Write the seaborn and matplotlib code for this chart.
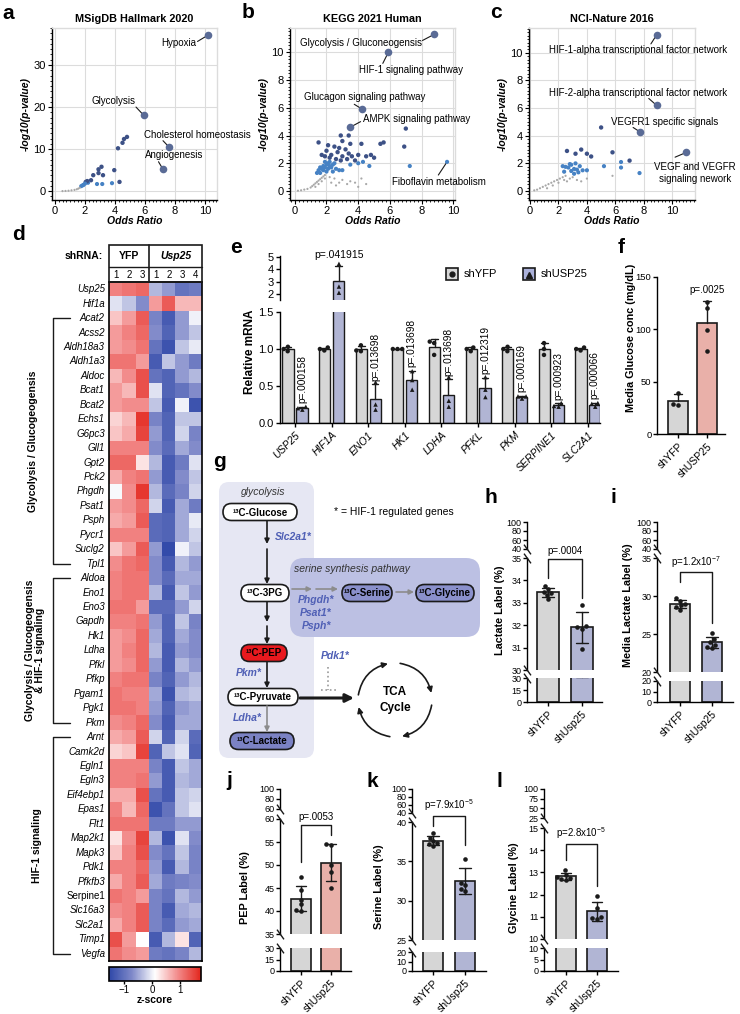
import numpy as np
import pandas as pd
import matplotlib
matplotlib.use("Agg")
import matplotlib.pyplot as plt
import seaborn as sns
from matplotlib.patches import FancyBboxPatch, Rectangle, FancyArrowPatch
from matplotlib.colors import LinearSegmentedColormap
from matplotlib.ticker import MultipleLocator
from matplotlib.transforms import ScaledTranslation

# ======================= DATA =======================
# (a) MSigDB Hallmark 2020
a_terms = ["Hypoxia", "Glycolysis", "Cholesterol homeostasis", "Angiogenesis"]
a_term_or = [10.2, 5.9, 7.6, 7.2]
a_term_lp = [37.1, 18.1, 10.5, 5.2]
a_or = [4.8, 4.6, 4.5, 4.2, 3.95, 4.3, 3.8, 3.15, 2.8, 3.1, 2.9, 3.2, 2.9, 2.55, 2.4,
        2.2, 2.15, 2.05, 2.0, 1.9, 1.75, 1.85, 0.5, 0.7, 0.9, 1.1, 1.3, 1.45, 1.55, 1.65]
a_lp = [12.9, 12.4, 11.5, 10.2, 5.0, 2.2, 1.9, 1.7, 1.7, 5.8, 5.2, 3.8, 4.3, 3.8, 2.6,
        2.0, 2.4, 2.2, 1.8, 1.5, 1.2, 1.4, 0.02, 0.05, 0.1, 0.2, 0.3, 0.45, 0.6, 0.8]

# (b) KEGG 2021 Human
b_terms = ["Glycolysis / Gluconeogensis", "HIF-1 signaling pathway",
           "Glucagon signaling pathway", "AMPK signaling pathway"]
b_term_or = [8.8, 5.9, 4.25, 3.5]
b_term_lp = [11.3, 10.0, 5.9, 4.6]
b_or = [9.6, 7.0, 6.9, 5.6, 5.4, 2.9, 3.4, 1.5, 2.1, 2.5, 2.8, 3.2, 3.5, 4.2, 3.0, 2.0, 2.7,
        3.4, 4.0, 4.8, 3.0, 3.6, 4.5, 5.0, 1.9, 2.3, 1.7, 2.2, 2.6, 3.3, 2.9, 3.8,
        7.25, 4.3, 4.0, 3.5, 4.7, 1.5, 1.6, 1.7, 1.8, 1.9, 2.0, 2.1, 2.2, 2.3, 2.4, 1.9, 2.2,
        2.6, 2.8, 1.6, 2.0, 2.4, 3.0, 2.5, 1.8, 1.4, 2.1,
        0.2, 0.4, 0.6, 0.8, 1.0, 1.1, 1.2, 1.3, 1.4, 1.5, 1.6, 1.7, 1.8, 1.9, 1.5, 1.7, 1.9,
        2.2, 2.5, 2.8, 3.0, 3.3, 3.5, 3.8, 4.2, 4.5, 1.3, 2.3, 2.6, 4.0]
b_lp = [2.1, 4.5, 3.2, 3.5, 3.4, 4.0, 4.0, 3.5, 3.3, 3.2, 3.1, 3.0, 3.4, 3.4, 3.6, 2.9, 2.8,
        2.7, 2.6, 2.6, 2.5, 2.5, 2.5, 2.4, 2.5, 2.6, 2.6, 2.4, 2.3, 2.3, 2.2, 2.2,
        1.8, 2.1, 2.0, 1.9, 1.8, 1.5, 1.7, 1.6, 1.8, 1.7, 1.9, 2.0, 1.8, 1.7, 1.9, 2.1, 2.1,
        1.6, 1.5, 1.3, 1.4, 1.4, 1.5, 2.0, 1.5, 1.3, 1.6,
        0.02, 0.05, 0.1, 0.15, 0.25, 0.35, 0.45, 0.55, 0.65, 0.75, 0.85, 0.95, 1.05, 1.15, 0.5,
        0.7, 0.9, 1.0, 0.9, 0.6, 0.8, 0.5, 0.7, 0.6, 0.9, 0.5, 0.3, 0.6, 0.4, 0.3]

# (c) NCI-Nature 2016
c_terms = ["HIF-1-alpha transcriptional factor network",
           "HIF-2-alpha transcriptional factor network",
           "VEGFR1 specific signals", "VEGF and VEGFR signaling nework"]
c_term_or = [8.9, 8.9, 7.7, 11.0]
c_term_lp = [11.3, 6.2, 4.3, 2.8]
c_or = [5.0, 5.8, 7.0, 6.4, 5.2, 6.4, 7.7, 2.6, 3.2, 3.6, 4.0, 4.3, 3.2, 2.8, 2.3, 2.5, 2.7,
        2.9, 3.1, 3.3, 3.5, 3.7, 4.0, 2.4, 2.9, 3.4, 3.1,
        0.3, 0.5, 0.7, 0.9, 1.1, 1.3, 1.5, 1.7, 1.9, 2.1, 2.3, 2.5, 2.0, 2.4, 2.8, 3.0, 3.3,
        3.6, 4.0, 5.8, 2.6, 1.6, 1.2]
c_lp = [4.6, 2.8, 2.2, 2.1, 1.8, 1.7, 1.3, 2.9, 2.7, 3.0, 2.7, 2.5, 2.0, 1.95, 1.8, 1.75, 1.7,
        1.9, 1.6, 1.55, 1.8, 1.5, 1.5, 1.4, 1.45, 1.35, 1.25,
        0.05, 0.1, 0.2, 0.3, 0.4, 0.5, 0.6, 0.7, 0.8, 0.9, 1.0, 1.1, 0.6, 0.8, 0.9, 1.0, 0.8,
        0.7, 0.9, 1.1, 0.7, 0.4, 0.2]

# (d) heatmap z-scores: columns YFP 1-3, Usp25 1-4
hm_genes = ["Usp25", "Hif1a", "Acat2", "Acss2", "Aldh18a3", "Aldh1a3", "Aldoc", "Bcat1",
            "Bcat2", "Echs1", "G6pc3", "Gll1", "Gpt2", "Pck2", "Phgdh", "Psat1", "Psph",
            "Pycr1", "Suclg2", "Tpl1", "Aldoa", "Eno1", "Eno3", "Gapdh", "Hk1", "Ldha",
            "Pfkl", "Pfkp", "Pgam1", "Pgk1", "Pkm", "Arnt", "Camk2d", "Egln1", "Egln3",
            "Eif4ebp1", "Epas1", "Flt1", "Map2k1", "Mapk3", "Pdk1", "Pfkfb3", "Serpine1",
            "Slc16a3", "Slc2a1", "Timp1", "Vegfa"]
hm_cols = ["YFP 1", "YFP 2", "YFP 3", "Usp25 1", "Usp25 2", "Usp25 3", "Usp25 4"]
hm_z = [
    [1.0, 1.1, 1.2, -0.4, -0.6, -1.0, -0.9],
    [-0.1, -0.3, -0.7, 0.8, 1.3, 0.6, 0.6],
    [0.5, 0.8, 1.3, -0.8, -1.3, -0.6, 0.0],
    [0.8, 1.0, 1.2, -0.7, -1.2, -0.6, -0.3],
    [0.8, 0.9, 1.1, -1.0, -1.4, -0.3, -0.05],
    [1.1, 1.1, 0.8, -1.3, -0.3, -0.6, -0.9],
    [0.6, 0.9, 1.4, -1.0, -1.2, -0.6, -0.4],
    [0.8, 0.6, 1.4, -0.1, -1.2, -1.0, -0.7],
    [0.8, 0.9, 0.9, -0.3, -1.3, 0.0, -1.4],
    [0.4, 0.6, 1.6, -0.8, -1.2, -0.3, -0.3],
    [0.5, 0.7, 1.5, -0.6, -1.2, -0.2, -0.8],
    [1.0, 1.0, 1.0, -0.7, -1.1, -0.5, -0.7],
    [1.2, 1.2, 0.3, -0.4, -1.3, -0.9, -0.1],
    [0.7, 1.0, 1.1, -0.6, -1.3, -0.7, -0.3],
    [0.05, 0.9, 1.6, -0.4, -1.1, -0.8, -0.2],
    [0.8, 0.9, 1.2, -0.2, -1.3, -0.5, -0.9],
    [0.7, 0.8, 1.3, -1.1, -1.2, -0.5, -0.05],
    [1.0, 1.0, 1.0, -1.1, -1.2, -0.5, -0.2],
    [0.5, 0.8, 1.3, -0.6, -1.5, 0.0, -0.3],
    [0.9, 1.1, 1.2, -0.7, -1.3, -0.4, -0.6],
    [1.0, 1.1, 1.1, -0.7, -1.1, -0.5, -0.5],
    [1.0, 1.1, 1.1, -0.4, -1.3, -0.3, -0.6],
    [1.1, 1.1, 0.8, -1.1, -1.1, -0.6, -0.2],
    [1.0, 1.0, 1.1, -0.6, -1.2, -0.3, -0.8],
    [0.8, 0.9, 1.2, -0.5, -1.2, -0.5, -0.7],
    [0.8, 1.0, 1.2, -0.4, -1.3, -0.6, -0.7],
    [0.8, 0.9, 1.2, -0.6, -1.3, -0.4, -0.6],
    [1.0, 1.1, 1.1, -0.8, -1.2, -0.6, -0.4],
    [1.1, 1.0, 1.0, -0.5, -1.4, -0.4, -0.3],
    [1.1, 1.1, 1.0, -0.6, -1.2, -0.6, -0.5],
    [0.9, 1.0, 1.2, -0.7, -1.3, -0.5, -0.5],
    [0.7, 0.8, 1.3, -0.2, -1.2, -0.2, -1.1],
    [0.4, 0.5, 1.5, -1.2, -0.3, -0.1, -1.2],
    [1.0, 1.0, 1.0, -0.8, -1.3, -0.3, -0.5],
    [1.0, 1.0, 1.1, -0.6, -1.3, -0.4, -0.5],
    [0.7, 0.7, 1.4, -1.0, -1.3, -0.3, -0.2],
    [1.0, 0.6, 1.2, -1.4, -1.0, -0.3, -0.1],
    [1.1, 1.1, 1.1, -0.9, -0.9, -0.6, -0.6],
    [0.3, 0.9, 1.5, -0.4, -1.4, -0.1, -0.7],
    [0.5, 1.0, 1.4, -0.7, -1.0, -0.3, -0.8],
    [1.0, 1.0, 1.2, -0.6, -1.3, -0.4, -0.8],
    [0.7, 1.0, 1.3, -0.5, -0.9, -0.8, -0.7],
    [1.1, 1.0, 0.8, -0.8, -1.0, -0.4, -0.6],
    [0.9, 1.0, 1.3, -0.8, -1.3, -0.5, -0.4],
    [0.7, 1.0, 1.3, -0.8, -1.1, -0.6, -0.5],
    [1.4, 0.8, 0.1, -1.3, -0.4, 0.3, -1.2],
    [1.1, 0.9, 0.8, -0.9, -1.0, -0.8, -0.4],
]

# (e) relative mRNA
e_genes = ["USP25", "HIF1A", "ENO1", "HK1", "LDHA", "PFKL", "PKM", "SERPINE1", "SLC2A1"]
e_shYFP = [[1.03, 0.97, 1.00], [0.98, 1.02, 1.00], [1.05, 0.97, 0.98], [1.00, 1.00, 1.00],
           [1.10, 1.08, 0.92], [1.02, 0.97, 1.00], [1.03, 0.97, 1.00], [1.08, 0.92, 1.00],
           [1.02, 0.98, 1.00]]
e_shUSP25 = [[0.18, 0.22, 0.20], [2.10, 2.60, 4.45], [0.18, 0.25, 0.55], [0.45, 0.58, 0.70],
             [0.22, 0.30, 0.62], [0.35, 0.45, 0.62], [0.33, 0.36, 0.36], [0.22, 0.27, 0.23],
             [0.22, 0.26, 0.27]]
e_pvals = ["p=.000158", "p=.041915", "p=.013698", "p=.013698", "p=.013698", "p=.012319",
           "p=.000169", "p=.000923", "p=.000066"]

# (f) media glucose
f_groups = ["shYFP", "shUSP25"]
f_shYFP = [28, 29, 39]
f_shUSP25 = [79, 99, 120, 126]
f_p = "p=.0025"

# (h-l) 13C label (%)
hl_groups = ["shYFP", "shUsp25"]
h_shYFP = [33.75, 33.6, 33.5, 33.45, 33.35, 33.15]
h_shUsp25 = [32.9, 31.95, 31.9, 31.85, 30.95]
i_shYFP = [29.8, 29.4, 29.0, 28.8, 28.6, 28.2]
i_shUsp25 = [25.1, 24.3, 23.9, 23.6, 23.3, 23.1]
j_shYFP = [47.3, 44.5, 42.5, 41.5, 40.3, 40.1]
j_shUsp25 = [54.6, 54.3, 50.0, 48.5, 45.0]
k_shYFP = [38.6, 38.0, 37.6, 37.3, 37.2, 37.0]
k_shUsp25 = [35.3, 32.3, 32.0, 31.5, 31.2]
l_shYFP = [13.1, 12.9, 12.8, 12.75, 12.7, 12.65]
l_shUsp25 = [11.95, 11.4, 11.0, 10.95, 10.9]
hl_p = {"h": "p=.0004", "i": "p=1.2x10$^{-7}$", "j": "p=.0053",
        "k": "p=7.9x10$^{-5}$", "l": "p=2.8x10$^{-5}$"}

# ======================= STYLE =======================
sns.set_theme(context="paper", style="ticks")
plt.rcParams["font.family"] = ["Liberation Sans", "DejaVu Sans"]
plt.rcParams.update({
    "font.size": 7, "axes.linewidth": 1.0, "axes.edgecolor": "black",
    "xtick.color": "black", "ytick.color": "black", "text.color": "black",
    "axes.labelcolor": "black", "xtick.major.width": 1.0, "ytick.major.width": 1.0,
    "xtick.major.size": 3, "ytick.major.size": 3,
    "mathtext.fontset": "custom", "mathtext.rm": "Liberation Sans",
    "mathtext.it": "Liberation Sans:italic", "mathtext.bf": "Liberation Sans:bold",
    "mathtext.default": "regular"})

GRAY = "#d6d6d6"
BLUE = "#abb1da"
SALMON = "#f4a79e"
NAVY = "#3d5186"
MID = "#4682c4"
LG = "#a8a8a8"
BIG = "#5a6b96"
ENZ = "#4f5fb5"

W, H = 740, 1014
fig = plt.figure(figsize=(W / 100, H / 100), dpi=100)
fig.patch.set_facecolor("white")


def axpx(x0, y0, x1, y1, **kw):
    return fig.add_axes([x0 / W, 1 - y1 / H, (x1 - x0) / W, (y1 - y0) / H], **kw)


ov = fig.add_axes([0, 0, 1, 1], zorder=20)
ov.set_xlim(0, W)
ov.set_ylim(H, 0)
ov.axis("off")
ov.patch.set_alpha(0)


def T(x, y, s, **kw):
    kw.setdefault("ha", "center")
    kw.setdefault("va", "center")
    kw.setdefault("fontsize", 7)
    return ov.text(x, y, s, **kw)


# panel letters
for lt, (x, y) in {"a": (2, 19), "b": (242, 18), "c": (490, 18), "d": (12, 240),
                   "e": (230, 253), "f": (618, 253), "g": (213, 467), "h": (485, 503),
                   "i": (610, 503), "j": (226, 786), "k": (366, 787), "l": (497, 787)}.items():
    T(x, y, lt, ha="left", va="baseline", fontsize=15, fontweight="bold")


# ======================= a / b / c =======================
def enrich(box, xlim, ylim, yticks, title, ors, lps, t_or, t_lp, ann):
    ax = axpx(*box)
    cat = ["ns" if v < 1.2 else ("mid" if v < 2.15 else "hi") for v in lps]
    df = pd.DataFrame({"OR": ors, "LP": lps, "cat": cat})
    sns.scatterplot(data=df, x="OR", y="LP", hue="cat", size="cat",
                    palette={"ns": LG, "mid": MID, "hi": NAVY},
                    sizes={"ns": 2.5, "mid": 9, "hi": 10}, linewidth=0, legend=False,
                    ax=ax, zorder=3)
    sns.scatterplot(x=t_or, y=t_lp, s=30, color=BIG, linewidth=0, ax=ax, zorder=4)
    for text, tx, ty, ha, lx, ly, px, py in ann:
        ax.text(tx, ty, text, ha=ha, va="center", fontsize=7, clip_on=False, zorder=6)
        ax.plot([lx, px], [ly, py], color="k", lw=0.8, clip_on=False, zorder=2)
    ax.set_xlim(xlim)
    ax.set_ylim(ylim)
    ax.set_xticks([0, 2, 4, 6, 8, 10])
    ax.set_yticks(yticks)
    ax.grid(True, color="#dcdcdc", lw=0.8)
    ax.set_axisbelow(True)
    for s in ["top", "right"]:
        ax.spines[s].set_color("#dcdcdc")
    ax.xaxis.set_minor_locator(MultipleLocator(0.25))
    ax.yaxis.set_minor_locator(MultipleLocator((yticks[1] - yticks[0]) / 8))
    ax.tick_params(which="major", length=3, width=0.8, labelsize=8, pad=1.5)
    ax.tick_params(which="minor", length=1.5, width=0.6)
    ax.tick_params(which="both", top=False, right=False)
    ax.set_xlabel("Odds Ratio", fontweight="bold", style="italic", fontsize=7.5, labelpad=0)
    ax.set_ylabel("-log10(p-value)", fontweight="bold", style="italic", fontsize=7.5,
                  labelpad=2)
    ax.set_title(title, fontweight="bold", fontsize=7.8, pad=4)
    return ax


enrich((52, 28, 217, 200), (-0.2, 10.8), (-2.1, 38.8), [0, 10, 20, 30],
       "MSigDB Hallmark 2020", a_or, a_lp, a_term_or, a_term_lp,
       [(a_terms[0], 9.45, 35.2, "right", 9.5, 35.6, a_term_or[0], a_term_lp[0]),
        (a_terms[1], 3.9, 21.4, "center", 5.4, 20.0, a_term_or[1], a_term_lp[1]),
        (a_terms[2], 5.9, 13.3, "left", 7.2, 12.0, a_term_or[2], a_term_lp[2]),
        (a_terms[3], 6.0, 8.6, "left", 6.9, 7.0, a_term_or[3], a_term_lp[3])])

enrich((290, 28, 455, 200), (-0.3, 10.1), (-0.65, 11.75), [0, 2, 4, 6, 8, 10],
       "KEGG 2021 Human", b_or, b_lp, b_term_or, b_term_lp,
       [(b_terms[0], 8.0, 10.7, "right", 8.05, 10.85, b_term_or[0], b_term_lp[0]),
        (b_terms[1], 4.05, 8.7, "left", 5.55, 9.2, b_term_or[1], b_term_lp[1]),
        (b_terms[2], 4.4, 6.8, "center", 3.75, 6.25, b_term_or[2], b_term_lp[2]),
        (b_terms[3], 4.3, 5.2, "left", 4.15, 5.0, b_term_or[3], b_term_lp[3]),
        ("Fiboflavin metabolism", 6.1, 0.65, "left", 9.05, 1.15, b_or[0], b_lp[0])])

enrich((529, 28, 695, 200), (-0.07, 11.6), (-0.65, 11.8), [0, 2, 4, 6, 8, 10],
       "NCI-Nature 2016", c_or, c_lp, c_term_or, c_term_lp,
       [(c_terms[0], 7.6, 10.2, "center", 8.5, 10.65, c_term_or[0], c_term_lp[0]),
        (c_terms[1], 7.6, 7.1, "center", 8.35, 6.7, c_term_or[1], c_term_lp[1]),
        (c_terms[2], 9.47, 5.0, "center", 7.25, 4.6, c_term_or[2], c_term_lp[2]),
        ("VEGF and VEGFR\nsignaling nework", 11.6, 1.3, "center", 10.2, 2.45,
         c_term_or[3], c_term_lp[3])])

# ======================= d heatmap =======================
cmap = LinearSegmentedColormap.from_list(
    "bwr_z", ["#2f48a8", "#7f89c9", "#ffffff", "#f28a8a", "#e3261c"])
axd = axpx(109, 282, 202, 961)
cax = axpx(109, 967, 201, 981)
hm = pd.DataFrame(np.array(hm_z), index=hm_genes, columns=hm_cols)
sns.heatmap(hm, ax=axd, cmap=cmap, vmin=-1.55, vmax=1.75, cbar_ax=cax,
            cbar_kws={"orientation": "horizontal", "ticks": [-1, 0, 1]},
            xticklabels=False, yticklabels=True)
axd.set_yticklabels(hm_genes, rotation=0, fontsize=7)
for lb in axd.get_yticklabels():
    lb.set_style("normal" if lb.get_text() == "Serpine1" else "italic")
axd.tick_params(axis="y", length=0, pad=3)
axd.set_ylabel("")
for s in axd.spines.values():
    s.set_visible(True)
    s.set_linewidth(1.2)
cax.tick_params(labelsize=7, length=2, pad=1)
cax.outline.set_linewidth(1.2) if hasattr(cax, "outline") else None
for s in cax.spines.values():
    s.set_linewidth(1.2)
T(155, 1000, "z-score", fontweight="bold", fontsize=7.5)

# heatmap header
ov.add_patch(Rectangle((109, 245), 93, 37, fill=False, ec="k", lw=1.2))
ov.plot([149, 149], [245, 282], color="k", lw=1.2)
ov.plot([109, 202], [267, 267], color="k", lw=1.0)
T(103, 256, "shRNA:", ha="right", fontweight="bold", fontsize=7.5)
T(129, 256, "YFP", fontweight="bold", fontsize=7.5)
T(175.5, 256, "Usp25", fontweight="bold", style="italic", fontsize=7.5)
cw = 93 / 7
for ci, num in enumerate(["1", "2", "3", "1", "2", "3", "4"]):
    T(109 + (ci + 0.5) * cw, 275, num, fontsize=7)

# brackets
rowh = (961 - 282) / len(hm_genes)


def rc(i):
    return 282 + (i + 0.5) * rowh


for (i0, i1), lab, lx in [((2, 19), "Glycolysis / Glucogeogensis", 33),
                          ((20, 30), "Glycolysis / Glucogeogensis\n& HIF-1 signaling", 35),
                          ((31, 46), "HIF-1 signaling", 37)]:
    y0, y1 = rc(i0), rc(i1)
    ov.plot([70, 53, 53, 70], [y0, y0, y1, y1], color="k", lw=1.0)
    T(lx, (y0 + y1) / 2, lab, rotation=90, fontweight="bold", fontsize=7.5,
      linespacing=1.1)

# ======================= e =======================
e_rows = []
for g, a_, b_ in zip(e_genes, e_shYFP, e_shUSP25):
    e_rows += [(g, "shYFP", v) for v in a_] + [(g, "shUSP25", v) for v in b_]
e_df = pd.DataFrame(e_rows, columns=["gene", "grp", "val"])
E_HUE = ["shYFP", "shUSP25"]


def up_err(ax, df, xcol, order, hue_order, cap):
    tops = {}
    for ci, cont in enumerate(ax.containers):
        for bar in cont:
            xc = bar.get_x() + bar.get_width() / 2
            gi = int(round(xc))
            lvl = hue_order[ci]
            vals = df[(df[xcol] == order[gi]) & (df["grp"] == lvl)]["val"]
            m, s = vals.mean(), vals.std()
            ax.plot([xc, xc], [m, m + s], color="k", lw=1.0, zorder=4)
            ax.plot([xc - cap, xc + cap], [m + s, m + s], color="k", lw=1.0, zorder=4)
            tops[(order[gi], lvl)] = (xc, m + s)
    return tops


e_lo = axpx(280, 312, 600, 423)
e_hi = axpx(280, 256, 600, 300)
for ax, (lo, hi) in [(e_lo, (0, 1.5)), (e_hi, (1.51, 5.08))]:
    sns.barplot(data=e_df, x="gene", y="val", hue="grp", order=e_genes, hue_order=E_HUE,
                palette={"shYFP": GRAY, "shUSP25": BLUE}, errorbar=None, width=0.76,
                gap=0.2, edgecolor="k", linewidth=1.0, legend=False, ax=ax)
    tops = up_err(ax, e_df, "gene", e_genes, E_HUE, cap=0.09)
    sub = e_df[(e_df["val"] >= lo) & (e_df["val"] <= hi)]
    for lvl, mk in zip(E_HUE, ["o", "^"]):
        sns.swarmplot(data=sub[sub["grp"] == lvl], x="gene", y="val", hue="grp",
                      order=e_genes, hue_order=E_HUE, dodge=True,
                      palette={"shYFP": "k", "shUSP25": "k"}, marker=mk, size=3.2,
                      legend=False, ax=ax, zorder=5)
    ax.set_ylim(lo, hi)
    ax.set_xlim(-0.41, 8.33)
    ax.set_xlabel("")
    ax.set_ylabel("")
    sns.despine(ax=ax)
    ax.tick_params(axis="y", labelsize=8, length=3, pad=1.5)

e_lo.set_yticks([0, 0.5, 1.0, 1.5])
e_lo.set_yticklabels(["0.0", "0.5", "1.0", "1.5"])
e_lo.set_xticks(range(len(e_genes)))
e_lo.set_xticklabels(e_genes, rotation=45, ha="right", rotation_mode="anchor",
                     style="italic", fontsize=7.5)
for lb in e_lo.get_xticklabels():
    lb.set_transform(lb.get_transform() + ScaledTranslation(5 / 72, 0, fig.dpi_scale_trans))
e_lo.tick_params(axis="x", length=3, pad=2)
e_hi.set_yticks([2, 3, 4, 5])
e_hi.set_xticks([])
e_hi.spines["bottom"].set_visible(False)
for gname, p in zip(e_genes, e_pvals):
    xc, top = tops[(gname, "shUSP25")]
    if gname == "HIF1A":
        e_hi.text(xc, top + 0.45, p, ha="center", va="bottom", fontsize=7.5, clip_on=False)
for gname, p in zip(e_genes, e_pvals):
    if gname == "HIF1A":
        continue
    vals = e_df[(e_df.gene == gname) & (e_df.grp == "shUSP25")]["val"]
    xc = e_genes.index(gname) + 0.19
    e_lo.text(xc, vals.mean() + vals.std() + 0.05, p, rotation=90, ha="center",
              va="bottom", fontsize=7.3, clip_on=False)
T(250, 352, "Relative mRNA", rotation=90, fontweight="bold", fontsize=8.5)
# legend
ov.add_patch(Rectangle((446, 268), 12, 12, fc=GRAY, ec="k", lw=1.2))
ov.plot([452], [274], marker="o", ms=3.5, color="k")
T(464, 274, "shYFP", ha="left", fontsize=8)
ov.add_patch(Rectangle((523, 268), 12, 12, fc=BLUE, ec="k", lw=1.2))
ov.plot([529], [274.5], marker="^", ms=3.8, color="k")
T(541, 274, "shUSP25", ha="left", fontsize=8)

# ======================= f =======================
f_df = pd.DataFrame({"grp": ["shYFP"] * len(f_shYFP) + ["shUSP25"] * len(f_shUSP25),
                     "val": f_shYFP + f_shUSP25})
axf = axpx(657, 277, 725, 434)
sns.barplot(data=f_df, x="grp", y="val", hue="grp", order=f_groups, hue_order=f_groups,
            palette={"shYFP": GRAY, "shUSP25": SALMON}, errorbar=None, width=0.66,
            edgecolor="k", linewidth=1.2, legend=False, ax=axf)
ftops = up_err(axf, f_df, "grp", f_groups, f_groups, cap=0.14)
sns.swarmplot(data=f_df, x="grp", y="val", order=f_groups, color="k", size=3.3, ax=axf,
              zorder=5)
axf.set_ylim(0, 150)
axf.set_xlim(-0.72, 1.62)
axf.set_yticks([0, 50, 100, 150])
axf.set_xlabel("")
axf.set_ylabel("")
sns.despine(ax=axf)
axf.tick_params(axis="y", labelsize=6.8, length=3, pad=1)
axf.set_xticks([0, 1])
axf.set_xticklabels(f_groups, rotation=45, ha="right", rotation_mode="anchor", fontsize=7.5)
axf.tick_params(axis="x", length=3, pad=2)
xc, top = ftops[("shUSP25", "shUSP25")]
axf.annotate(f_p, xy=(xc, top), xytext=(0, 4), textcoords="offset points", ha="center",
             va="bottom", fontsize=7)
T(631, 338, "Media Glucose conc (mg/dL)", rotation=90, fontweight="bold", fontsize=7.8)

# ======================= g diagram =======================


def rbox(x0, y0, x1, y1, fc, ec="none", lw=0.0, r=8, z=1):
    ov.add_patch(FancyBboxPatch((x0, y0), x1 - x0, y1 - y0,
                                boxstyle=f"round,pad=0,rounding_size={r}",
                                fc=fc, ec=ec, lw=lw, zorder=z))


def node(cx, cy, w, h, txt, fc):
    rbox(cx - w / 2, cy - h / 2, cx + w / 2, cy + h / 2, fc, ec="k", lw=1.2, r=h / 2, z=4)
    T(cx, cy + 0.5, txt, fontweight="bold", fontsize=7, zorder=6)


def arr(x0, y0, x1, y1, color="k", lw=1.2, ms=7):
    ov.add_patch(FancyArrowPatch((x0, y0), (x1, y1), arrowstyle="-|>", mutation_scale=ms,
                                 color=color, lw=lw, shrinkA=0, shrinkB=0, zorder=5))


def enz(x, y, s, ha="center"):
    T(x, y, s, ha=ha, color=ENZ, fontweight="bold", style="italic", fontsize=7.5, zorder=6)


rbox(219, 482, 314, 758, "#e6e7f3", r=10, z=1)
rbox(290, 558, 480, 637, "#bcc0e3", r=14, z=2)
T(263, 492, "glycolysis", style="italic", fontsize=7.5, color="#333333")
T(394, 512, "* = HIF-1 regulated genes", fontsize=7.5)
T(352, 569, "serine synthesis pathway", style="italic", fontsize=7.5, color="#333333",
  zorder=6)
node(260, 512, 74, 17, "¹³C-Glucose", "white")
node(265, 593, 48, 17, "¹³C-3PG", "white")
node(264, 653, 46, 17, "¹³C-PEP", "#e8191e")
node(263, 697, 70, 17, "¹³C-Pyruvate", "white")
node(262, 741, 64, 17, "¹³C-Lactate", "#7b82c4")
node(367, 593, 50, 17, "¹³C-Serine", "#8a90cc")
node(445, 593, 58, 17, "¹³C-Glycine", "#8a90cc")
arr(267, 521, 267, 544)
arr(267, 549, 267, 584)
enz(275, 537, "Slc2a1*", ha="left")
arr(267, 602, 267, 622)
arr(267, 626, 267, 644)
arr(267, 662, 267, 688)
enz(262, 673, "Pkm*", ha="right")
arr(267, 706, 267, 732, color="#8c8c8c")
enz(262, 718, "Ldha*", ha="right")
arr(292, 589, 312, 589, color="#8c8c8c")
arr(316, 589, 338, 589, color="#8c8c8c")
arr(396, 592, 414, 592, color="#8c8c8c")
enz(316, 600, "Phgdh*")
enz(316, 613, "Psat1*")
enz(316, 626, "Psph*")
arr(300, 698, 354, 698, lw=2.2, ms=12)
enz(335, 656, "Pdk1*")
ov.plot([328, 328], [667, 690], ls=":", color="#999999", lw=1.2)
ov.plot([321, 336], [690, 690], ls=":", color="#999999", lw=1.2)
tcx, tcy, tr = 395, 700, 37
for a1, a2 in [(172, 101), (82, 11), (-8, -79), (-98, -169)]:
    p1 = (tcx + tr * np.cos(np.radians(a1)), tcy - tr * np.sin(np.radians(a1)))
    p2 = (tcx + tr * np.cos(np.radians(a2)), tcy - tr * np.sin(np.radians(a2)))
    ov.add_patch(FancyArrowPatch(p1, p2, connectionstyle="arc3,rad=-0.32",
                                 arrowstyle="-|>", mutation_scale=8, color="k", lw=1.2,
                                 shrinkA=0, shrinkB=0, zorder=5))
T(tcx, 692, "TCA", fontweight="bold", fontsize=8.5)
T(tcx, 708, "Cycle", fontweight="bold", fontsize=8.5)


# ======================= h - l broken bars =======================
def brk(ax, y):
    ax.plot([0], [y], transform=ax.transAxes, marker=[(-1, 1.4), (1, -1.4)], ms=7,
            mec="k", mfc="none", mew=1.0, clip_on=False, zorder=10)


def broken(xpx, xl, segs, ticks, vals_a, vals_b, col_b, bracket, ptxt, ylab, ylx):
    df = pd.DataFrame({"grp": [hl_groups[0]] * len(vals_a) + [hl_groups[1]] * len(vals_b),
                       "val": list(vals_a) + list(vals_b)})
    n = len(segs)
    for k, (lo, hi, yt, yb) in enumerate(segs):
        ax = axpx(xpx[0], yt, xpx[1], yb)
        sns.barplot(data=df, x="grp", y="val", hue="grp", order=hl_groups,
                    hue_order=hl_groups, palette={hl_groups[0]: GRAY, hl_groups[1]: col_b},
                    errorbar="sd", capsize=0.35, err_kws={"color": "k", "linewidth": 1.0},
                    edgecolor="k", linewidth=1.2, width=0.64, legend=False, ax=ax)
        if k == 1:
            sns.swarmplot(data=df, x="grp", y="val", order=hl_groups, color="k", size=3.3,
                          ax=ax, zorder=6)
            top, la, lb = bracket
            ax.plot([0, 0, 1, 1], [la, top, top, lb], color="k", lw=1.0, clip_on=False,
                    zorder=7)
            ax.annotate(ptxt, xy=(0.5, top), xytext=(0, 2), textcoords="offset points",
                        ha="center", va="bottom", fontsize=7, annotation_clip=False)
        ax.set_ylim(lo, hi)
        ax.set_xlim(*xl)
        ax.set_yticks(ticks[k])
        ax.set_xlabel("")
        ax.set_ylabel("")
        sns.despine(ax=ax)
        ax.tick_params(axis="y", labelsize=6.5, length=3, pad=1)
        if k < n - 1:
            ax.spines["bottom"].set_visible(False)
            ax.set_xticks([])
            brk(ax, 0)
        else:
            ax.set_xticks([0, 1])
            ax.set_xticklabels(hl_groups, rotation=45, ha="right", rotation_mode="anchor",
                               fontsize=7.5)
            for lbx in ax.get_xticklabels():
                lbx.set_transform(lbx.get_transform()
                                  + ScaledTranslation(3 / 72, 0, fig.dpi_scale_trans))
            ax.tick_params(axis="x", length=3, pad=2)
        if k > 0:
            brk(ax, 1)
    ys = (segs[0][2] + segs[-1][3]) / 2
    T(ylx[0], ylx[1], ylab, rotation=90, fontweight="bold", fontsize=7.8)


broken((527, 602), (-0.62, 1.59), [(40, 100, 522, 549), (30, 35, 558, 670), (0, 30, 678, 702)],
       [[40, 60, 80, 100], [30, 31, 32, 33, 34, 35], [0, 15, 30]], h_shYFP, h_shUsp25, BLUE,
       (34.95, 34.1, 33.2), hl_p["h"], "Lactate Label (%)", (500, 610))
broken((657, 733), (-0.72, 1.66), [(40, 100, 522, 549), (20, 35, 558, 672), (0, 20, 681, 702)],
       [[40, 60, 80, 100], [20, 25, 30, 35], [0, 10, 20]], i_shYFP, i_shUsp25, BLUE,
       (33.1, 31.8, 26.5), hl_p["i"], "Media Lactate Label (%)", (628, 605))
broken((280, 351), (-0.7, 1.67), [(60, 100, 789, 809), (35, 60, 819, 934), (0, 30, 948, 971)],
       [[60, 80, 100], [35, 40, 45, 50, 55, 60], [0, 15, 30]], j_shYFP, j_shUsp25, SALMON,
       (58.7, 50.6, 56.5), hl_p["j"], "PEP Label (%)", (245, 888))
broken((412, 486), (-0.66, 1.66), [(40, 100, 789, 813), (25, 40, 822, 940), (0, 20, 952, 971)],
       [[40, 60, 80, 100], [25, 30, 35, 40], [0, 10, 20]], k_shYFP, k_shUsp25, BLUE,
       (40.8, 39.5, 37.1), hl_p["k"], "Serine Label (%)", (379, 887))
broken((544, 618), (-0.71, 1.68), [(25, 100, 789, 818), (10, 15, 828, 939), (0, 10, 948, 971)],
       [[25, 50, 75, 100], [10, 11, 12, 13, 14, 15], [0, 5, 10]], l_shYFP, l_shUsp25, BLUE,
       (14.3, 13.55, 12.4), hl_p["l"], "Glycine Label (%)", (514, 888))

fig.savefig("out.png", dpi=100, facecolor="white")
